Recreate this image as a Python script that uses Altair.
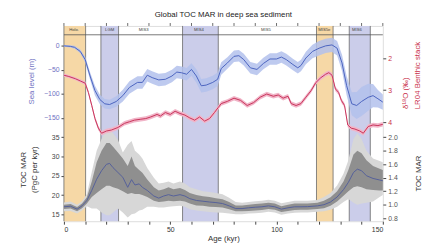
import altair as alt
import pandas as pd

title_text = "Global TOC MAR in deep sea sediment"

# climate stage columns (kyr)
col_start = [0.0, 17.4, 55.8, 118.8, 134.2]
col_end = [10.2, 25.7, 72.6, 126.6, 144.1]
col_kind = ["warm", "cold", "cold", "warm", "cold"]

stage_names = ["Holo.", "LGM", "MIS3", "MIS4", "MIS5", "MIS5e", "MIS6"]
stage_age = [4.8, 21.5, 37.5, 63.5, 95.0, 122.5, 137.8]

tick_ages = [0, 10, 20, 30, 40, 50, 60, 70, 80, 90, 100, 110, 120, 130, 140, 150]

# sea level (m)
sea_age = [0, 3, 5, 7.7, 10, 12.3, 14.6, 16.9, 19.2, 21.5, 24.6, 27.7, 30.8, 34.6, 36.9,
           39.2, 41.5, 44.6, 47.7, 50.8, 53.1, 55.4, 57.7, 60, 62.3, 64.6, 66.9, 70, 72.3, 74,
           76.9, 80, 82.3, 84.6, 87.7, 90.8, 93.8, 96.9, 100, 102.3, 104.6, 107.7, 110, 111.5,
           113.8, 116.9, 120, 123.1, 126.1, 128.5, 130.8, 133, 135.4, 137.7, 140, 143.1, 145.4,
           147.7, 150]
sea_level = [0, -1, -3, -11.6, -28.6, -62.7, -93, -111.6, -120.5, -122, -115.7, -103.5, -86.5,
             -76, -76, -61, -66, -70.8, -69.5, -62.7, -54.5, -56, -59, -49, -62.7, -83, -81.6,
             -76, -69.5, -47, -35.5, -21.8, -20.4, -28.6, -45.7, -49, -36.7, -27.3, -27.3,
             -23.3, -28.6, -38.8, -45.7, -40.8, -25.3, -11.6, -4.9, 0, 2, -4.9, -35.5, -83,
             -120.5, -124, -115.7, -107, -103.5, -110, -117]
sea_err = [2, 2.5, 3, 4, 6, 8, 10, 10, 10, 10, 11, 12, 13, 13, 13, 13, 13, 13, 13, 13, 13, 13,
           13, 13, 14, 14, 14, 14, 14, 13, 12, 12, 12, 12, 12, 12, 12, 12, 12, 12, 12, 12, 12,
           12, 13, 14, 15, 15, 15, 15, 17, 20, 24, 28, 30, 28, 24, 18, 16]

# LR04 benthic d18O (permil)
d18o_age = [0, 2.3, 5.4, 7.7, 10, 11.5, 13.1, 14.6, 16.2, 17.7, 20, 22.3, 25.4, 28.5, 30.8,
            33.1, 36.2, 38.5, 40.8, 43.8, 45.4, 47.7, 50, 52.3, 54.6, 56.9, 59.2, 61.5, 63.8,
            66.2, 68.5, 70.8, 72.5, 74, 76.9, 80, 83.1, 86.2, 89.2, 92.3, 95.4, 98.5, 100.8,
            103.1, 105.4, 106.9, 109.2, 111.5, 113.8, 116.2, 118.5, 120.8, 123.1, 124.6, 126.1,
            127.7, 129.2, 130.5, 132, 133.5, 135.1, 136.9, 139.2, 140.8, 143.1, 145.4, 147.7, 150]
d18o_val = [2.53, 2.57, 2.64, 2.71, 2.78, 3.07, 3.48, 3.89, 4.19, 4.35, 4.28, 4.25, 4.17, 4.04,
            3.99, 3.94, 3.91, 3.89, 3.84, 3.76, 3.81, 3.70, 3.76, 3.66, 3.73, 3.78, 3.87, 3.94,
            3.84, 3.97, 3.89, 3.70, 3.55, 3.42, 3.35, 3.25, 3.32, 3.48, 3.39, 3.22, 3.12, 3.19,
            3.15, 3.25, 3.19, 3.42, 3.48, 3.42, 3.22, 3.02, 2.76, 2.61, 2.50, 2.45, 2.53, 2.96,
            3.07, 3.32, 3.48, 4.09, 4.19, 4.22, 4.28, 4.35, 4.14, 4.09, 4.11, 4.07]
d18o_err = [0.05, 0.05, 0.05, 0.05, 0.06, 0.06, 0.07, 0.07, 0.07, 0.07, 0.07, 0.07, 0.07, 0.07,
            0.07, 0.07, 0.07, 0.07, 0.07, 0.07, 0.07, 0.07, 0.07, 0.07, 0.07, 0.07, 0.07, 0.07,
            0.07, 0.07, 0.07, 0.07, 0.07, 0.07, 0.07, 0.07, 0.07, 0.07, 0.07, 0.07, 0.07, 0.07,
            0.07, 0.07, 0.07, 0.07, 0.07, 0.07, 0.07, 0.07, 0.07, 0.07, 0.07, 0.07, 0.07, 0.07,
            0.07, 0.07, 0.07, 0.07, 0.07, 0.07, 0.07, 0.07, 0.07, 0.07, 0.07, 0.07]

# TOC MAR (PgC per kyr)
toc_age = [0, 3.1, 6.2, 8.5, 10.8, 13.1, 15.4, 17.7, 20, 21.5, 23.1, 25.4, 27.7, 30, 31.8, 33.4,
           35.4, 36.9, 39.2, 42.3, 44.6, 46.9, 49.2, 51.5, 54.6, 56.9, 59.2, 62.3, 65.4, 68.5,
           71.5, 74.6, 77.7, 80.8, 83.8, 86.9, 90, 93.1, 96.2, 99.2, 102.3, 105.4, 108.5, 111.5,
           114.6, 119.2, 122.3, 125.4, 128.5, 131.5, 133.8, 136.2, 138, 140, 142.3, 145.4,
           148.5, 150]
toc_mean = [16.96, 17.1, 16.35, 17.2, 18.6, 21.2, 24.1, 26.3, 27.96, 28.2, 27.1, 25.85, 24.6,
            22.0, 24.0, 22.6, 22.9, 22.0, 21.2, 19.75, 19.2, 19.75, 20.1, 19.75, 20.1, 19.75,
            19.07, 18.6, 18.4, 18.2, 18.05, 17.8, 17.2, 16.5, 16.5, 16.7, 16.85, 16.96, 17.2,
            16.96, 16.35, 16.7, 16.96, 16.96, 17.0, 17.2, 17.5, 18.2, 19.5, 21.4, 23.3, 25.85,
            26.7, 26.3, 25.0, 24.3, 23.9, 23.7]
toc_in_lo = [16.4, 16.5, 15.8, 16.6, 17.8, 19.5, 20.5, 21.5, 22.4, 22.4, 22.0, 21.6, 21.0, 20.3,
             20.5, 20.3, 20.3, 20.0, 19.5, 18.5, 18.2, 18.3, 18.5, 18.4, 18.5, 18.3, 17.8, 17.3,
             17.2, 17.0, 16.9, 16.8, 16.3, 15.8, 15.8, 15.9, 16.0, 16.1, 16.4, 16.2, 15.6, 15.9,
             16.1, 16.2, 16.2, 16.4, 16.6, 17.2, 18.3, 19.8, 21.0, 22.0, 22.3, 22.0, 21.5, 21.3,
             21.2, 21.2]
toc_in_hi = [17.5, 17.7, 16.9, 17.8, 19.4, 23.5, 28.5, 31.5, 33.5, 33.5, 32.5, 31.0, 29.5, 27.5,
             30.0, 27.5, 26.5, 25.8, 24.0, 22.0, 21.2, 21.5, 22.0, 21.5, 21.8, 21.3, 20.5, 20.0,
             19.7, 19.5, 19.2, 18.9, 18.2, 17.3, 17.3, 17.5, 17.7, 17.8, 18.0, 17.8, 17.1, 17.5,
             17.8, 17.8, 17.8, 18.0, 18.5, 19.4, 21.0, 23.5, 26.5, 30.5, 31.5, 30.8, 29.0, 27.5,
             26.8, 26.5]
toc_out_lo = [15.8, 15.9, 15.2, 16.0, 17.1, 16.5, 16.5, 15.5, 14.8, 14.8, 15.5, 16.5, 15.5, 14.2,
              15.0, 15.2, 16.0, 16.2, 17.0, 17.0, 16.8, 16.8, 17.0, 17.1, 17.2, 17.0, 16.3, 16.0,
              15.8, 15.6, 15.5, 15.4, 15.2, 15.0, 15.0, 15.2, 15.3, 15.4, 15.7, 15.5, 14.9, 15.2,
              15.4, 15.5, 15.5, 15.7, 15.8, 16.2, 17.0, 18.2, 19.0, 18.0, 17.5, 17.8, 18.0, 18.3,
              19.5, 20.0]
toc_out_hi = [18.1, 18.3, 17.5, 18.4, 20.3, 26.0, 31.5, 34.5, 36.9, 37.0, 36.0, 34.3, 31.0, 33.0,
              34.0, 31.5, 30.5, 29.5, 27.0, 24.5, 23.0, 23.2, 23.5, 23.0, 23.5, 23.0, 22.0, 21.5,
              21.0, 20.8, 20.5, 20.2, 19.3, 18.2, 18.0, 18.2, 18.4, 18.5, 18.8, 18.5, 17.9, 18.2,
              18.5, 18.5, 18.5, 18.7, 19.5, 20.5, 22.5, 25.5, 29.0, 34.5, 36.0, 34.5, 31.5, 29.5,
              28.8, 28.5]

sea_ticks = [0, -50, -100, -150]
d18o_ticks = [2, 3, 4]
toc_ticks = [15, 20, 25, 30, 35]
tocn_ticks = [0.8, 1.0, 1.2, 1.4, 1.6, 1.8, 2.0]

W, H = 325, 199
FONT = "Liberation Sans"
BLUE_T = "#6f72c2"
RED_T = "#c9304a"
GREY_T = "#444444"

cols = pd.DataFrame({"start": col_start, "end": col_end, "kind": col_kind})
edges = pd.DataFrame({"age": col_start + col_end})
stages = pd.DataFrame({"age": stage_age, "name": stage_names})
topt = pd.DataFrame({"age": tick_ages})
sea = pd.DataFrame({"age": sea_age, "sl": sea_level, "err": sea_err})
sea["lo"] = sea["sl"] - sea["err"]
sea["hi"] = sea["sl"] + sea["err"]
d18 = pd.DataFrame({"age": d18o_age, "d": d18o_val, "err": d18o_err})
d18["lo"] = d18["d"] - d18["err"]
d18["hi"] = d18["d"] + d18["err"]
toc = pd.DataFrame({"age": toc_age, "mean": toc_mean, "in_lo": toc_in_lo, "in_hi": toc_in_hi,
                    "out_lo": toc_out_lo, "out_hi": toc_out_hi})
one = pd.DataFrame({"a": [0]})

xscale = alt.Scale(domain=[0, 150], nice=False, zero=False)
xaxis = alt.Axis(values=tick_ages, labelExpr="datum.value % 50 == 0 ? datum.label : ''",
                 title="Age (kyr)", grid=False, domain=False, tickSize=3, tickColor="#444",
                 labelFontSize=7, titleFontSize=8, labelPadding=1, titlePadding=3,
                 labelColor="#333", titleColor="#333", titleFontWeight="normal",
                 labelFont=FONT, titleFont=FONT)


def X(f):
    return alt.X(f"{f}:Q", scale=xscale, axis=xaxis)


sea_scale = alt.Scale(domain=[-364.7, 41.4], nice=False, zero=False)
d18_scale = alt.Scale(domain=[0.985, 7.11], nice=False, zero=False, reverse=True)
toc_scale = alt.Scale(domain=[13.22, 63.8], nice=False, zero=False)
tocn_scale = alt.Scale(domain=[0.7554, 3.6457], nice=False, zero=False)


def yaxis(**kw):
    base = dict(grid=False, domain=False, tickSize=3, tickColor="#444", labelFontSize=7,
                titleFontSize=8, titleFontWeight="normal", labelPadding=2,
                titleAngle=270, titleAlign="center", titleBaseline="middle",
                labelFont=FONT, titleFont=FONT)
    base.update(kw)
    return alt.Axis(**base)


sea_axis = yaxis(orient="left", values=sea_ticks, title="Sea level (m)", titleX=-33, titleY=56,
                 labelColor=BLUE_T, titleColor=BLUE_T)
toc_axis = yaxis(orient="left", values=toc_ticks, title=["TOC MAR", "(PgC per kyr)"],
                 titleX=-41, titleY=146, titleLineHeight=11, labelColor=GREY_T,
                 titleColor="#333")
d18_axis = yaxis(orient="right", values=d18o_ticks, title="δ¹⁸O (‰)", titleX=23, titleY=68,
                 labelColor=RED_T, titleColor=RED_T)
lr04_axis = yaxis(orient="right", values=d18o_ticks, title="LR04 Benthic stack", titleX=35,
                  titleY=50, labels=False, ticks=False, titleColor=RED_T)
tocn_axis = yaxis(orient="right", values=tocn_ticks, format=".1f", title="TOC MAR",
                  titleX=36, titleY=150, labelColor="#555", titleColor="#333")

columns = alt.Chart(cols).mark_rect().encode(
    x=X("start"), x2="end", y=alt.value(0), y2=alt.value(H),
    color=alt.Color("kind:N", scale=alt.Scale(domain=["warm", "cold"],
                                               range=["#f6d8a6", "#cbcdea"]), legend=None))
edge_rules = alt.Chart(edges).mark_rule(color="#666", strokeWidth=0.8).encode(
    x=X("age"), y=alt.value(0), y2=alt.value(H))
band_line = alt.Chart(one).mark_rule(color="#555", strokeWidth=0.8).encode(
    x=alt.value(0), x2=alt.value(W), y=alt.value(9))
stage_text = alt.Chart(stages).mark_text(fontSize=4.3, color="#444", baseline="middle",
                                         font=FONT).encode(
    x=X("age"), y=alt.value(4.6), text="name:N")
top_ticks = alt.Chart(topt).mark_rule(color="#444", strokeWidth=0.8).encode(
    x=X("age"), y=alt.value(-3), y2=alt.value(0))

toc_out = alt.Chart(toc).mark_area(color="#d7d7d7").encode(
    x=X("age"), y=alt.Y("out_lo:Q", scale=toc_scale, axis=None), y2="out_hi:Q")
toc_in = alt.Chart(toc).mark_area(color="#8f8f8f").encode(
    x=X("age"), y=alt.Y("in_lo:Q", scale=toc_scale, axis=toc_axis), y2="in_hi:Q")
toc_line = alt.Chart(toc).mark_line(color="#55609a", strokeWidth=1).encode(
    x=X("age"), y=alt.Y("mean:Q", scale=toc_scale, axis=None))
tocn_layer = alt.Chart(pd.DataFrame({"v": tocn_ticks})).mark_point(opacity=0).encode(
    y=alt.Y("v:Q", scale=tocn_scale, axis=tocn_axis))

sea_band = alt.Chart(sea).mark_area(color="#b3c1ec", opacity=0.85).encode(
    x=X("age"), y=alt.Y("lo:Q", scale=sea_scale, axis=None), y2="hi:Q")
sea_line = alt.Chart(sea).mark_line(color="#4a63bf", strokeWidth=1).encode(
    x=X("age"), y=alt.Y("sl:Q", scale=sea_scale, axis=sea_axis))

d18_band = alt.Chart(d18).mark_area(color="#f1b5c8").encode(
    x=X("age"), y=alt.Y("lo:Q", scale=d18_scale, axis=lr04_axis), y2="hi:Q")
d18_line = alt.Chart(d18).mark_line(color="#c8335a", strokeWidth=1).encode(
    x=X("age"), y=alt.Y("d:Q", scale=d18_scale, axis=d18_axis))

chart = alt.layer(
    columns, edge_rules, band_line, stage_text, top_ticks,
    toc_out, toc_in, toc_line, tocn_layer,
    sea_band, sea_line, d18_band, d18_line,
).resolve_scale(y="independent").properties(
    width=W, height=H,
    title=alt.TitleParams(title_text, fontSize=8, fontWeight="normal", anchor="middle",
                          frame="group", offset=4, color="#222", font=FONT),
    autosize=alt.AutoSizeParams(type="none"),
    padding={"left": 57, "top": 16, "right": 44, "bottom": 26},
).configure_view(stroke="#555", strokeWidth=0.8).configure(font=FONT)

chart.save("out.html", embed_options={"renderer": "svg", "actions": False})
